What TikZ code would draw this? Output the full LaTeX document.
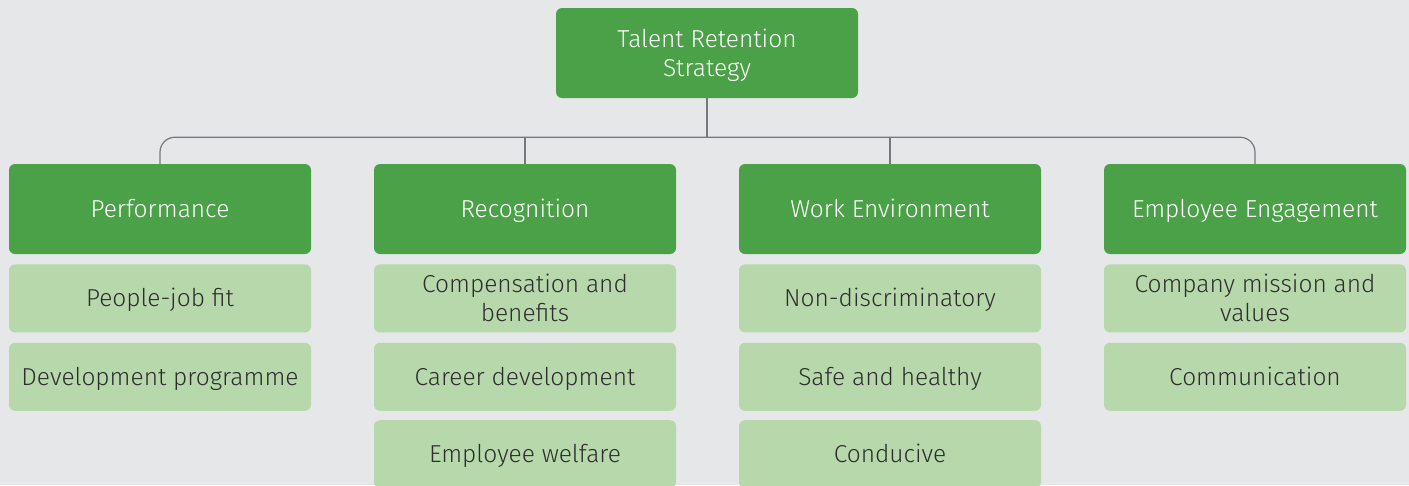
\documentclass[tikz,border=0pt]{standalone}
\usepackage{fontspec}
\setmainfont{Fira Sans}[UprightFont=* Light]
\usepackage{tikz}
\usetikzlibrary{calc, positioning}

\definecolor{bgGray}{HTML}{E6E7E9}
\definecolor{darkGreen}{HTML}{4BA147}
\definecolor{lightGreen}{HTML}{B7D8AB}
\definecolor{lineGray}{HTML}{77787B}
\definecolor{textGray}{HTML}{2E2E2E}

\tikzset{
	mainbox/.style = {fill = darkGreen, text = white, rounded corners = 6pt,
		minimum width = 302pt, minimum height = 90pt, inner sep = 0pt, align = center,
		font = \fontsize{24.5}{29}\selectfont, text height = 17pt, text depth = 0pt},
	subbox/.style = {fill = lightGreen, text = textGray, rounded corners = 6pt,
		minimum width = 302pt, minimum height = 68pt, inner sep = 0pt, align = center,
		font = \fontsize{24.5}{29}\selectfont, text height = 17pt, text depth = 0pt},
	twolines/.style = {text height = 46pt},
	link/.style = {draw = lineGray, line width = 1.2pt}
}

\begin{document}
\begin{tikzpicture}[x = 1pt, y = 1pt]
							\useasboundingbox (0,0) rectangle (1409,-485);
							\fill [bgGray] (0,0) rectangle (1409,-485);
							\clip (0,0) rectangle (1409,-485);
				
							\node [mainbox, twolines] (strategy) at (707,-53) {Talent Retention\\Strategy};
				
							\node [mainbox] (perf) at (160,-209) {Performance};
							\node [mainbox] (recog) at (525,-209) {Recognition};
							\node [mainbox] (workenv) at (890,-209) {Work Environment};
							\node [mainbox] (engage) at (1255,-209) {Employee Engagement};
				
							\node [subbox, below = 10pt of perf] (fit) {People-job fit};
							\node [subbox, below = 10pt of fit] (devprog) {Development programme};
				
							\node [subbox, twolines, below = 10pt of recog] (comp) {Compensation and\\benefits};
							\node [subbox, below = 10pt of comp] (career) {Career development};
							\node [subbox, below = 9pt of career] (welfare) {Employee welfare};
				
							\node [subbox, below = 10pt of workenv] (nondisc) {Non-discriminatory};
							\node [subbox, below = 10pt of nondisc] (safe) {Safe and healthy};
							\node [subbox, below = 9pt of safe] (conducive) {Conducive};
				
							\node [subbox, twolines, below = 10pt of engage] (mission) {Company mission and\\values};
							\node [subbox, below = 10pt of mission] (comm) {Communication};
				
							\coordinate (bus) at ($(strategy.south) + (0,-39)$);
				
							\draw [link] (strategy.south) -- (bus);
							\draw [link, rounded corners = 15pt] (perf.north) |- (bus);
							\draw [link, rounded corners = 15pt] (engage.north) |- (bus);
							\draw [link] (recog.north) -- (recog.north |- bus);
							\draw [link] (workenv.north) -- (workenv.north |- bus);
						\end{tikzpicture}
\end{document}
